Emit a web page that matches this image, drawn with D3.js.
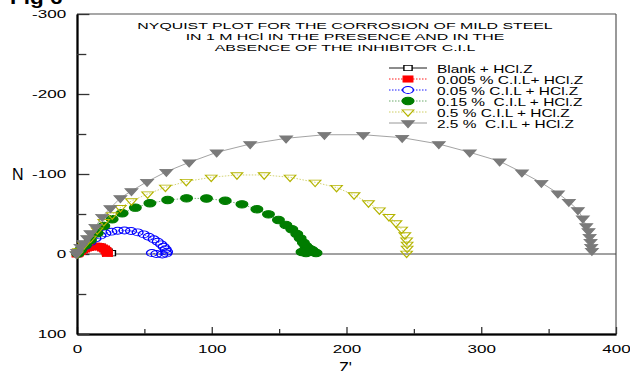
<!DOCTYPE html>
<html>
<head>
	<title>Nyquist plot</title>
	<script type="text/javascript" src="https://cdnjs.cloudflare.com/ajax/libs/d3/7.8.5/d3.min.js"></script>
	<style>
		body { margin: 0; background: white; }
		text { font-family: "Liberation Sans", Arial, sans-serif; white-space: pre; }
	</style>
</head>
<body>
	<svg id="chart" width="630" height="371"></svg>
	<script type="text/javascript">
		// Z' , Z'' pairs (Z'' negative = above the zero line)
		var blankData = [[0.5,-0.5],[3,-4],[6,-7],[10,-9],[14,-9.8],[18,-8.8],[21,-6],[23,-3],[25.5,-1]];
		var redData = [[0,0],[1.1,-1.2],[2.6,-3.1],[4.1,-5],[5.6,-6.3],[7,-7.5],[8.5,-8.1],[10,-8.8],[11.5,-9.4],[13,-9.6],[14.4,-9.6],[15.9,-9.4],[17.4,-8.8],[18.9,-7.5],[20.4,-6.3],[21.5,-4.4],[22.2,-2.5],[22.6,-0.6]];
		var blueData = [[0.5,-0.5],[2.6,-5],[6.3,-10],[10,-15],[13.7,-19.4],[17.4,-23.1],[21.1,-25.9],[25.6,-27.9],[30.2,-29.1],[35.2,-29.4],[40.1,-28.8],[45,-27.1],[49.5,-24.6],[53.2,-21.6],[56.9,-18.4],[59.9,-15.4],[62.4,-12.1],[64.3,-9.1],[65.8,-5.9],[66.8,-2.9],[66.3,-0.6],[63.3,0.6],[58.9,0],[55.6,-1.2]];
		var greenData = [[0.5,-0.5],[2.6,-5],[6.3,-11.3],[10,-17.5],[15,-25.9],[19.9,-35],[26.1,-43.4],[33.5,-50.9],[43.3,-57.9],[54.1,-63.4],[67.3,-67.5],[81.3,-69.6],[96.1,-69.4],[110,-66.6],[122.4,-62.1],[133.5,-55.9],[142.1,-49.6],[149.5,-42.5],[155,-36.3],[159.4,-30.9],[163.1,-25],[165.6,-19.6],[168,-14.1],[169.8,-10],[171.7,-7.1],[174.2,-5],[175.9,-2.5],[177.4,-1.2],[170,-1.2],[167,-2.5]];
		var yellowData = [[0,0],[1.1,-3.8],[5,-11.3],[10,-19.6],[15,-30],[19.9,-40.4],[26.1,-48.8],[32.2,-57.9],[40.4,-66.3],[52.4,-75],[65.6,-83.4],[81.1,-90.6],[99.6,-95.9],[118.7,-98.8],[138.9,-98.8],[158.1,-95.9],[176.7,-89.6],[192.6,-83.1],[205.6,-73.8],[216.3,-63.8],[224.4,-55],[231.5,-46.6],[236.7,-38.8],[240.9,-30.9],[243.3,-23.8],[244.6,-17.5],[245,-12.1],[245,-7.1],[244.6,-0.9]];
		var grayData = [[-0.5,0],[0.1,-2.9],[2.6,-9.1],[4.8,-13.8],[7.6,-20],[10,-26.3],[13.7,-34.1],[18.7,-46.6],[24.8,-57.5],[32.2,-70],[40.4,-78.8],[52,-90.4],[66.3,-102.9],[83.3,-114.6],[103.7,-127.1],[128.5,-137.5],[155.2,-144.6],[183.6,-149.1],[212.4,-149.1],[241.3,-145.4],[268.5,-137.5],[291.5,-127.1],[313.7,-115.9],[330.2,-102.1],[344.6,-89.1],[356.9,-75.9],[365,-65.4],[371.7,-55],[375.4,-44.6],[377.9,-35],[379.6,-28.8],[380.4,-21.6],[381.1,-15.4],[381.6,-9.1],[382.1,-4.1]];

		var seriesNames = ["Blank + HCl.Z", "0.005 % C.I.L+ HCl.Z", "0.05 % C.I.L + HCl.Z", "0.15 %  C.I.L + HCl.Z", "0.5 % C.I.L + HCl.Z", "2.5 %  C.I.L + HCl.Z"];
		var titleLines = ["NYQUIST PLOT FOR THE CORROSION OF MILD STEEL", "IN 1 M HCl IN THE PRESENCE AND IN THE", "ABSENCE OF THE INHIBITOR C.I.L"];
		var xMajor = [0, 100, 200, 300, 400];
		var xMinor = [50, 150, 250, 350];
		var yMajor = [-300, -200, -100, 0, 100];
		var yMinor = [-250, -150, -50, 50];

		var sx = 1.55; // the original figure is stretched sideways

		var series = [
			{name: seriesNames[0], data: blankData, type: d3.symbolSquare, size: 28, fill: "white", stroke: "black", line: "black", dash: null},
			{name: seriesNames[1], data: redData, type: d3.symbolSquare, size: 38, fill: "red", stroke: "red", line: "red", dash: "1.5,1.5"},
			{name: seriesNames[2], data: blueData, type: d3.symbolCircle, size: 38, fill: "none", stroke: "blue", line: "blue", dash: "1.5,1.5"},
			{name: seriesNames[3], data: greenData, type: d3.symbolCircle, size: 44, fill: "#007d00", stroke: "#007d00", line: "#5aa05a", dash: "1.5,1.5"},
			{name: seriesNames[4], data: yellowData, type: d3.symbolTriangle, size: 24, fill: "none", stroke: "#b4b400", line: "#c8c850", dash: "1.5,1.5", down: true},
			{name: seriesNames[5], data: grayData, type: d3.symbolTriangle, size: 28, fill: "#7a7a7a", stroke: "#7a7a7a", line: "#8c8c8c", dash: null, down: true}
		];

		var svg = d3.select("#chart");

		var x = d3.scaleLinear().domain([0, 400]).range([77, 616]);
		var y = d3.scaleLinear().domain([-300, 100]).range([14, 334]);

		// frame
		svg.append("line").attr("x1", x(0)).attr("x2", x(400)).attr("y1", y(-300)).attr("y2", y(-300))
			.attr("stroke", "#8a8a8a").attr("stroke-width", 1.5);
		svg.append("line").attr("x1", x(400)).attr("x2", x(400)).attr("y1", y(-300)).attr("y2", y(100))
			.attr("stroke", "#555").attr("stroke-width", 1.2);
		svg.append("line").attr("x1", x(0)).attr("x2", x(400)).attr("y1", y(0)).attr("y2", y(0))
			.attr("stroke", "#444").attr("stroke-width", 1);

		// axes
		var xAxis = svg.append("g").attr("transform", "translate(0," + y(100) + ")")
			.call(d3.axisBottom(x).tickValues(xMajor).tickSizeInner(-7).tickSizeOuter(0).tickPadding(11).tickFormat(function (d) { return String(d); }));
		svg.append("g").attr("transform", "translate(0," + y(100) + ")")
			.call(d3.axisBottom(x).tickValues(xMinor).tickSizeInner(-5).tickSizeOuter(0).tickFormat(""));
		var yAxis = svg.append("g").attr("transform", "translate(" + x(0) + ",0)")
			.call(d3.axisLeft(y).tickValues(yMajor).tickSizeInner(-8).tickSizeOuter(0).tickPadding(7).tickFormat(function (d) { return String(d); }));
		svg.append("g").attr("transform", "translate(" + x(0) + ",0)")
			.call(d3.axisLeft(y).tickValues(yMinor).tickSizeInner(-6).tickSizeOuter(0).tickFormat(""));

		svg.selectAll(".domain").attr("stroke-width", 1.8);
		yAxis.select(".domain").attr("stroke", "black");
		xAxis.select(".domain").attr("stroke", "#666");
		svg.selectAll(".tick line").attr("stroke-width", 1.3).attr("stroke", "#333");
		svg.selectAll(".tick text")
			.attr("font-size", 11)
			.attr("font-family", "Liberation Sans, Arial, sans-serif")
			.attr("fill", "black")
			.attr("transform", "scale(" + sx + ",1)");
		// left ticks are drawn inward, so stretch them sideways too
		svg.selectAll(".tick line").filter(function () { return this.getAttribute("x2") != null; })
			.attr("transform", "scale(" + sx + ",1)");

		// series
		var line = d3.line().x(function (d) { return x(d[0]); }).y(function (d) { return y(d[1]); });

		function markerTransform(px, py, s) {
			return "translate(" + px + "," + py + ") scale(" + sx + ",1)" + (s.down ? " rotate(180)" : "");
		}

		series.forEach(function (s) {
			svg.append("path")
				.attr("d", line(s.data))
				.attr("fill", "none")
				.attr("stroke", s.line)
				.attr("stroke-width", 0.8)
				.attr("stroke-dasharray", s.dash);

			svg.append("g").selectAll("path")
				.data(s.data)
				.enter().append("path")
				.attr("d", d3.symbol().type(s.type).size(s.size))
				.attr("transform", function (d) { return markerTransform(x(d[0]), y(d[1]), s); })
				.attr("fill", s.fill)
				.attr("stroke", s.stroke)
				.attr("stroke-width", 0.9);
		});

		// legend
		var legend = svg.append("g");
		series.forEach(function (s, i) {
			var ly = 68 + i * 11;
			legend.append("line")
				.attr("x1", 389).attr("x2", 427).attr("y1", ly).attr("y2", ly)
				.attr("stroke", s.line).attr("stroke-width", 0.9)
				.attr("stroke-dasharray", s.dash);
			legend.append("path")
				.attr("d", d3.symbol().type(s.type).size(s.size))
				.attr("transform", markerTransform(408, ly, s))
				.attr("fill", s.fill == "none" ? "white" : s.fill)
				.attr("stroke", s.stroke)
				.attr("stroke-width", 0.9);
			legend.append("text")
				.attr("transform", "translate(437," + (ly + 4.5) + ") scale(1.47,1)")
				.attr("font-size", 10.5)
				.text(s.name);
		});

		// title
		titleLines.forEach(function (t, i) {
			svg.append("text")
				.attr("transform", "translate(345," + (28.5 + i * 11) + ") scale(1.62,1)")
				.attr("text-anchor", "middle")
				.attr("font-size", 9.8)
				.text(t);
		});

		svg.append("text")
			.attr("transform", "translate(10,4) scale(1.25,1)")
			.attr("font-family", "Liberation Serif, Times New Roman, serif")
			.attr("font-weight", "bold")
			.attr("font-size", 18)
			.text("Fig 6");

		svg.append("text").attr("x", 12).attr("y", 180).attr("font-size", 16).text("N");
		svg.append("text").attr("x", 339).attr("y", 374).attr("font-size", 16).text("Z'");
	</script>
</body>
</html>
